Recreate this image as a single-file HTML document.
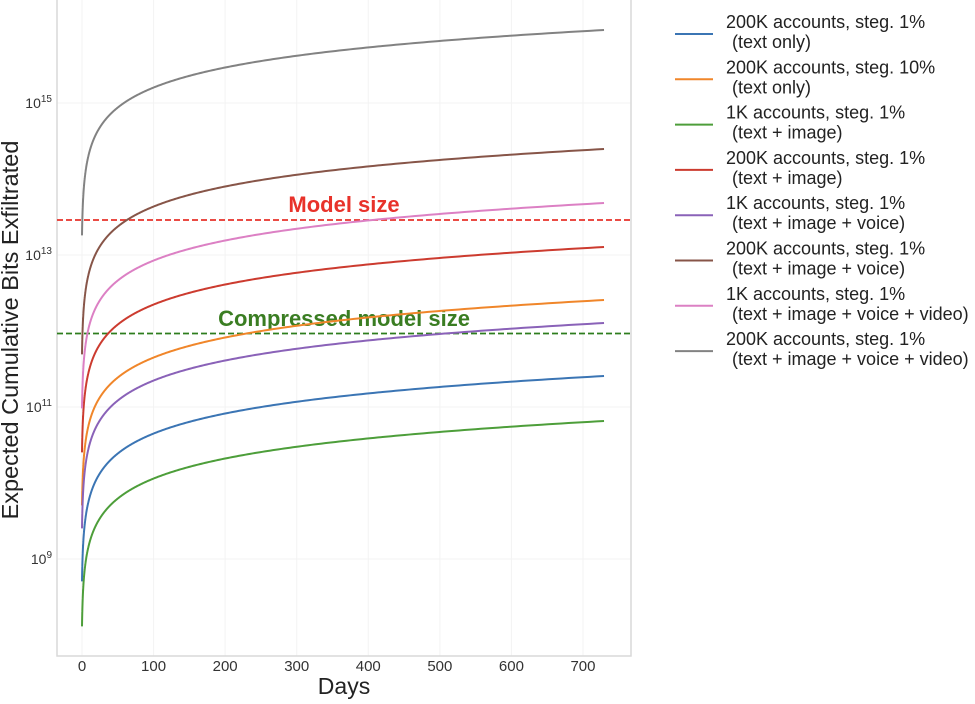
<!DOCTYPE html>
<html><head><meta charset="utf-8"><style>
body{margin:0;background:#fff;}
svg text{font-family:"Liberation Sans",sans-serif;}
</style></head><body>
<svg id="s" width="975" height="699" xmlns="http://www.w3.org/2000/svg">
<g id="grid" stroke="#f3f3f3" stroke-width="1"></g>
<rect x="57" y="-2" width="574" height="658" fill="none" stroke="#d9d9d9" stroke-width="1.5"/>
<line x1="57" y1="220" x2="631" y2="220" stroke="#e8322a" stroke-width="1.8" stroke-dasharray="6,3"/>
<line x1="57" y1="333.5" x2="631" y2="333.5" stroke="#2e7d1e" stroke-width="1.8" stroke-dasharray="6,3"/>
<text x="344" y="212" fill="#e8322a" font-size="22" font-weight="bold" text-anchor="middle">Model size</text>
<text x="344" y="326" fill="#3a7d22" font-size="22" font-weight="bold" text-anchor="middle">Compressed model size</text>
<g id="curves" fill="none" stroke-width="2"></g>
<g font-size="15" fill="#333" text-anchor="middle" id="xt"></g>
<g font-size="14" fill="#333" text-anchor="end">
<text x="52" y="108">10<tspan dy="-6" font-size="10">15</tspan></text>
<text x="52" y="260">10<tspan dy="-6" font-size="10">13</tspan></text>
<text x="52" y="412">10<tspan dy="-6" font-size="10">11</tspan></text>
<text x="52" y="564">10<tspan dy="-6" font-size="10">9</tspan></text>
</g>
<text x="344" y="694" font-size="23" fill="#222" text-anchor="middle">Days</text>
<text transform="translate(18,330) rotate(-90)" font-size="23.5" fill="#222" text-anchor="middle">Expected Cumulative Bits Exfiltrated</text>
<g id="leg" font-size="18" fill="#222"></g>
</svg>
<script>
var ns="http://www.w3.org/2000/svg";
function el(p,t,a,txt){var e=document.createElementNS(ns,t);for(var k in a)e.setAttribute(k,a[k]);if(txt)e.textContent=txt;document.getElementById(p).appendChild(e);return e;}
function X(d){return 82+d*0.7157;}
for(var d=0;d<=700;d+=100){el('grid','line',{x1:X(d),y1:0,x2:X(d),y2:656});el('xt','text',{x:X(d),y:671},String(d));}
[103,255,407,559].forEach(function(y){el('grid','line',{x1:57,y1:y,x2:631,y2:y});});
var S=[["#3b75b4",376],["#f0862a",300],["#4d9e3a",421],["#cc3b2f",247],["#8a62b8",323],["#875548",149],["#dc80c4",203],["#828282",30]];
var t0=0.62,P=0.88;
S.forEach(function(s){var p="";for(var i=0;i<=500;i++){var t=t0*Math.pow(730/t0,i/500);var y=s[1]+76*P*Math.log10(730/t);p+=(i?"L":"M")+X(t-t0).toFixed(2)+","+y.toFixed(2);}el('curves','path',{d:p,stroke:s[0]});});
var L=[["200K accounts, steg. 1%","(text only)"],["200K accounts, steg. 10%","(text only)"],["1K accounts, steg. 1%","(text + image)"],["200K accounts, steg. 1%","(text + image)"],["1K accounts, steg. 1%","(text + image + voice)"],["200K accounts, steg. 1%","(text + image + voice)"],["1K accounts, steg. 1%","(text + image + voice + video)"],["200K accounts, steg. 1%","(text + image + voice + video)"]];
L.forEach(function(l,i){var y=34+i*45.3;el('leg','line',{x1:675,y1:y,x2:713,y2:y,stroke:S[i][0],"stroke-width":2});el('leg','text',{x:726,y:y-6},l[0]);el('leg','text',{x:732,y:y+14},l[1]);});
</script>
</body></html>
